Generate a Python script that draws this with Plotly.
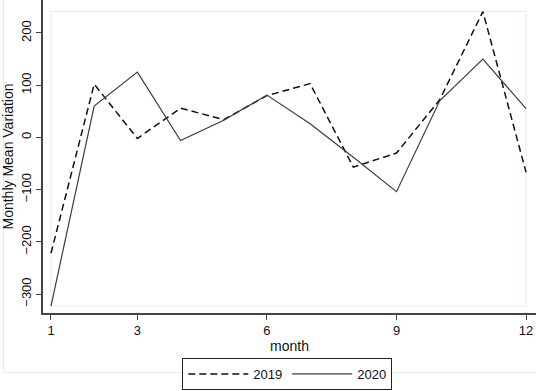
import plotly.graph_objects as go

months = [1, 2, 3, 4, 5, 6, 7, 8, 9, 10, 11, 12]
var_2019 = [-222, 102, -2, 56, 34, 80, 103, -57, -30, 72, 241, -67]
var_2020 = [-323, 60, 125, -6, 33, 81, 26, -38, -104, 70, 150, 55]
x_ticks = [1, 3, 6, 9, 12]
y_ticks = [-300, -200, -100, 0, 100, 200]

font = "Liberation Sans, Arial, sans-serif"

fig = go.Figure()
fig.add_trace(go.Scatter(x=months, y=var_2019, mode="lines", name="2019",
                         line=dict(color="#111111", width=1.5, dash="7px,4px")))
fig.add_trace(go.Scatter(x=months, y=var_2020, mode="lines", name="2020",
                         line=dict(color="#3c3c3c", width=1.2)))

ymin = min(var_2019 + var_2020)
ymax = max(var_2019 + var_2020)

fig.update_layout(
    width=536, height=391,
    margin=dict(l=43, r=0, t=0, b=78, autoexpand=False),
    paper_bgcolor="white", plot_bgcolor="white",
    font=dict(family=font, size=13, color="#111111"),
    showlegend=True,
    legend=dict(orientation="h", xref="container", yref="container",
                x=0.536, xanchor="center", y=1 - 358 / 391, yanchor="top",
                bordercolor="#222222", borderwidth=1, bgcolor="white",
                font=dict(size=13), itemwidth=60, tracegroupgap=0),
    xaxis=dict(range=[0.815, 12.23], tickvals=x_ticks, ticks="outside", ticklen=5,
               tickcolor="#444444", showline=True, linecolor="#444444", linewidth=1.5,
               showgrid=False, zeroline=False, automargin=False,
               title=dict(text="month", font=dict(size=14), standoff=0)),
    yaxis=dict(range=[-336.4, 263.2], tickvals=y_ticks, ticks="outside", ticklen=5,
               tickcolor="#444444", showline=True, linecolor="#444444", linewidth=1.5,
               showgrid=False, zeroline=False, tickangle=-90, automargin=False,
               title=dict(text="Monthly Mean Variation", font=dict(size=14), standoff=4)),
    shapes=[dict(type="rect", xref="paper", yref="paper", x0=-0.08, x1=1.02,
                 y0=-0.19, y1=1.02, line=dict(color="#e3ecee", width=1), layer="below")]
)
fig.add_shape(type="rect", x0=min(months), x1=max(months), y0=ymin, y1=ymax,
              xref="x", yref="y", line=dict(color="#e3ecee", width=1), layer="below")

fig.write_html("out.html", config={"displayModeBar": False},
               post_script="document.body.style.margin='0';document.body.style.overflow='hidden';")
